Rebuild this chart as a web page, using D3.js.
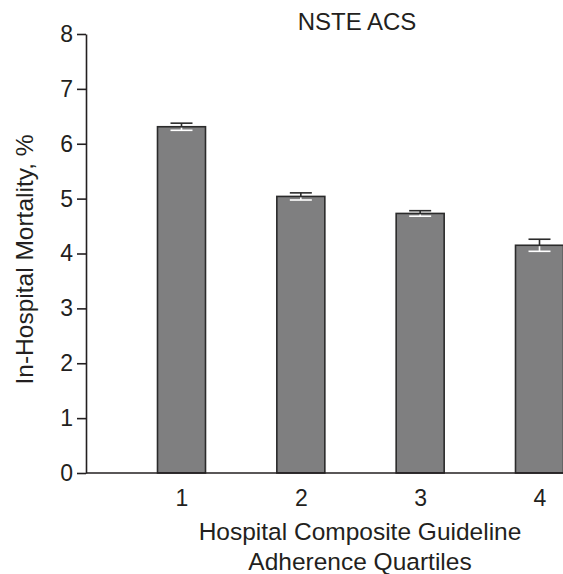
<!DOCTYPE html>
<html>
<head>
<meta charset="utf-8">
<script src="https://cdn.jsdelivr.net/npm/d3@7"></script>
<style>
  html, body { margin: 0; padding: 0; background: #fff; }
  svg { display: block; font-family: "Liberation Sans", Arial, Helvetica, sans-serif; }
</style>
</head>
<body>
<svg id="chart" width="563" height="574"></svg>
<script>
// Quartiles of hospital composite guideline adherence
const quartiles = ["1", "2", "3", "4"];
// In-hospital mortality (%) per quartile
const mortality = [6.31, 5.04, 4.73, 4.15];
// Half-width of the error bar around each value (%)
const errHalf = [0.065, 0.065, 0.05, 0.11];
// Y-axis tick values
const yTicks = [0, 1, 2, 3, 4, 5, 6, 7, 8];

const title = "NSTE ACS";
const yLabel = "In-Hospital Mortality, %";
const xLabelLines = ["Hospital Composite Guideline", "Adherence Quartiles"];

const W = 563, H = 574;
const axisX = 86, baseY = 473, topY = 34;
const barW = 48, capW = 22;
const ink = "#231f20";

const svg = d3.select("#chart");

const y = d3.scaleLinear().domain([0, 8]).range([baseY, topY]);
const x = d3.scalePoint().domain(quartiles).range([181.5, 539.5]);

// Bars
svg.append("g").selectAll("rect")
  .data(quartiles)
  .join("rect")
  .attr("x", (d) => x(d) - barW / 2)
  .attr("y", (d, i) => y(mortality[i]))
  .attr("width", barW)
  .attr("height", (d, i) => y(0) - y(mortality[i]))
  .attr("fill", "#7f7f80")
  .attr("stroke", "#2b2b2b")
  .attr("stroke-width", 1.6);

// Error bars: dark whisker above the bar top, white whisker inside the bar
const eb = svg.append("g");
quartiles.forEach((q, i) => {
  const cx = x(q);
  const top = y(mortality[i]);
  const hi = y(mortality[i] + errHalf[i]);
  const lo = y(mortality[i] - errHalf[i]);
  eb.append("line").attr("x1", cx).attr("x2", cx).attr("y1", top).attr("y2", hi)
    .attr("stroke", "#2b2b2b").attr("stroke-width", 1.6);
  eb.append("line").attr("x1", cx - capW / 2).attr("x2", cx + capW / 2).attr("y1", hi).attr("y2", hi)
    .attr("stroke", "#2b2b2b").attr("stroke-width", 1.6);
  eb.append("line").attr("x1", cx).attr("x2", cx).attr("y1", top + 1).attr("y2", lo)
    .attr("stroke", "#ffffff").attr("stroke-width", 1.6);
  eb.append("line").attr("x1", cx - capW / 2).attr("x2", cx + capW / 2).attr("y1", lo).attr("y2", lo)
    .attr("stroke", "#ffffff").attr("stroke-width", 1.6);
});

// X baseline
svg.append("line")
  .attr("x1", axisX).attr("x2", W)
  .attr("y1", baseY).attr("y2", baseY)
  .attr("stroke", ink).attr("stroke-width", 1.6);

// X tick labels
const xAxis = svg.append("g")
  .attr("transform", `translate(0,${baseY})`)
  .call(d3.axisBottom(x).tickSize(0).tickPadding(17));
xAxis.select(".domain").remove();
xAxis.selectAll("text").attr("font-size", 23).attr("fill", ink)
  .style("font-family", "'Liberation Sans', Arial, sans-serif");

// Y axis
const yAxis = svg.append("g")
  .attr("transform", `translate(${axisX},0)`)
  .call(d3.axisLeft(y).tickValues(yTicks).tickSize(9).tickSizeOuter(0).tickPadding(4));
yAxis.select(".domain").attr("stroke", ink).attr("stroke-width", 1.6);
yAxis.selectAll(".tick line").attr("stroke", ink).attr("stroke-width", 1.6);
yAxis.selectAll("text").attr("font-size", 23).attr("fill", ink)
  .style("font-family", "'Liberation Sans', Arial, sans-serif");

// Title
svg.append("text")
  .attr("x", 357).attr("y", 30)
  .attr("text-anchor", "middle")
  .attr("font-size", 24)
  .attr("fill", ink)
  .text(title);

// Y label
svg.append("text")
  .attr("transform", `translate(33,259.5) rotate(-90)`)
  .attr("text-anchor", "middle")
  .attr("font-size", 24.5)
  .attr("fill", ink)
  .text(yLabel);

// X label (two lines)
svg.append("text")
  .attr("text-anchor", "middle")
  .attr("font-size", 24.5)
  .attr("fill", ink)
  .selectAll("tspan")
  .data(xLabelLines)
  .join("tspan")
  .attr("x", 360)
  .attr("y", (d, i) => 540 + i * 30)
  .text((d) => d);
</script>
</body>
</html>
